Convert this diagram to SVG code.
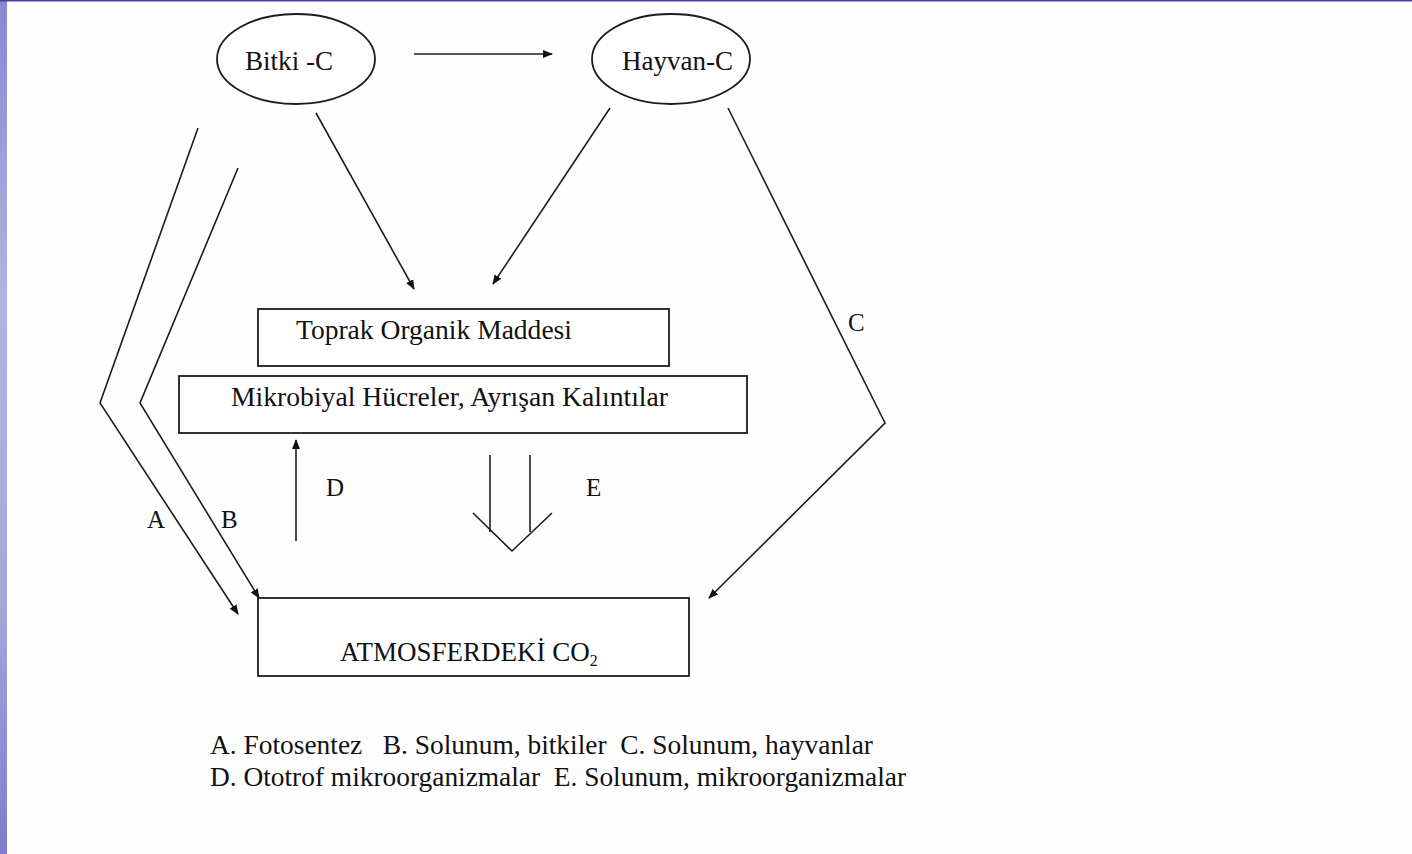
<svg xmlns="http://www.w3.org/2000/svg" width="1412" height="854" viewBox="0 0 1412 854">
<defs>
<linearGradient id="strip" x1="0" y1="0" x2="0" y2="1">
<stop offset="0" stop-color="#8a86d2"/>
<stop offset="0.35" stop-color="#b4b2e2"/>
<stop offset="0.7" stop-color="#a9a6dc"/>
<stop offset="1" stop-color="#7f7bcc"/>
</linearGradient>
<marker id="ah" viewBox="0 0 10 10" refX="9" refY="5" markerWidth="10" markerHeight="10" markerUnits="userSpaceOnUse" orient="auto">
<path d="M0,1 L10,5 L0,9 z" fill="#111"/>
</marker>
<style>
.ln{fill:none;stroke:#1c1c1c;stroke-width:1.6}
.bx{fill:#fff;stroke:#1c1c1c;stroke-width:1.8}
.t{font-family:"Liberation Serif","Times New Roman",serif;fill:#111}
</style>
</defs>
<rect x="0" y="0" width="1412" height="854" fill="#fefefe"/>
<rect x="0" y="0" width="7" height="854" fill="url(#strip)"/>
<rect x="0" y="0" width="1412" height="1.5" fill="#4a40a0"/>

<g id="connectors">
<line class="ln" x1="414" y1="54" x2="552" y2="54" marker-end="url(#ah)"/>
<line class="ln" x1="316" y1="113" x2="414" y2="289" marker-end="url(#ah)"/>
<line class="ln" x1="610" y1="108" x2="493" y2="284" marker-end="url(#ah)"/>
<polyline class="ln" points="728,108 885,423 709,598" marker-end="url(#ah)"/>
<polyline class="ln" points="198,128 100,403 238,614" marker-end="url(#ah)"/>
<polyline class="ln" points="238,168 140,403 259,598" marker-end="url(#ah)"/>
<line class="ln" x1="296" y1="541" x2="296" y2="440" marker-end="url(#ah)"/>
<line class="ln" x1="490" y1="455" x2="490" y2="532"/>
<line class="ln" x1="530" y1="455" x2="530" y2="532"/>
<polyline class="ln" points="473,513 512,551 552,513"/>
<text class="t" x="848" y="331" font-size="25">C</text>
<text class="t" x="147" y="528" font-size="25">A</text>
<text class="t" x="221" y="528" font-size="25">B</text>
<text class="t" x="326" y="496" font-size="25">D</text>
<text class="t" x="586" y="496" font-size="25">E</text>
</g>

<g id="bitki">
<ellipse class="bx" cx="296" cy="59" rx="79" ry="45"/>
<text class="t" x="245" y="70" font-size="27" textLength="88" lengthAdjust="spacingAndGlyphs">Bitki -C</text>
</g>
<g id="hayvan">
<ellipse class="bx" cx="671" cy="59" rx="79" ry="45"/>
<text class="t" x="622" y="70" font-size="27" textLength="111" lengthAdjust="spacingAndGlyphs">Hayvan-C</text>
</g>
<g id="toprak">
<rect class="bx" x="258" y="309" width="411" height="57"/>
<text class="t" x="296" y="339" font-size="27" textLength="276" lengthAdjust="spacingAndGlyphs">Toprak Organik Maddesi</text>
</g>
<g id="mikrobiyal">
<rect class="bx" x="179" y="376" width="568" height="57"/>
<text class="t" x="231" y="406" font-size="27" textLength="437" lengthAdjust="spacingAndGlyphs">Mikrobiyal Hücreler, Ayrışan Kalıntılar</text>
</g>
<g id="atmosfer">
<rect class="bx" x="258" y="598" width="431" height="78"/>
<text class="t" x="340" y="661" font-size="27">ATMOSFERDEKİ CO<tspan font-size="16" dy="5">2</tspan></text>
</g>
<g id="legend">
<text class="t" x="210" y="754" font-size="28" textLength="663" lengthAdjust="spacingAndGlyphs" xml:space="preserve">A. Fotosentez   B. Solunum, bitkiler  C. Solunum, hayvanlar</text>
<text class="t" x="210" y="786" font-size="28" textLength="696" lengthAdjust="spacingAndGlyphs" xml:space="preserve">D. Ototrof mikroorganizmalar  E. Solunum, mikroorganizmalar</text>
</g>
</svg>
